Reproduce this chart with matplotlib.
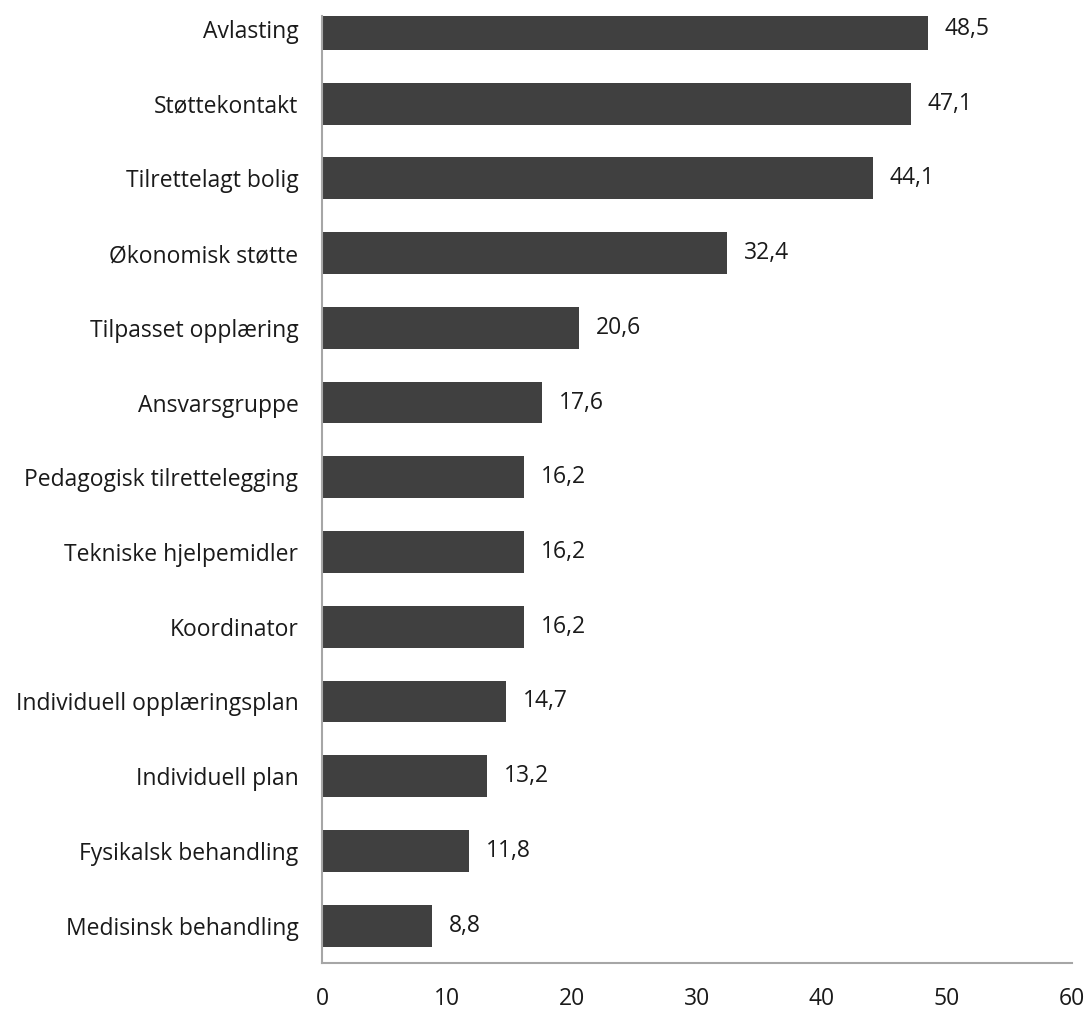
import matplotlib
matplotlib.use("Agg")
import matplotlib.pyplot as plt

plt.rcParams['font.family'] = ['Open Sans', 'DejaVu Sans']

# data, top to bottom as in the chart
categories = ['Avlasting', 'Støttekontakt', 'Tilrettelagt bolig', 'Økonomisk støtte',
              'Tilpasset opplæring', 'Ansvarsgruppe', 'Pedagogisk tilrettelegging',
              'Tekniske hjelpemidler', 'Koordinator', 'Individuell opplæringsplan',
              'Individuell plan', 'Fysikalsk behandling', 'Medisinsk behandling']
values = [48.5, 47.1, 44.1, 32.4, 20.6, 17.6, 16.2, 16.2, 16.2, 14.7, 13.2, 11.8, 8.8]
xticks = [0, 10, 20, 30, 40, 50, 60]

fig = plt.figure(figsize=(10.88, 10.10), dpi=100)
ax = fig.add_axes([0.296, 0.0465, 0.689, 0.9375])

n = len(categories)
pos = list(range(n - 1, -1, -1))
ax.barh(pos, values, height=0.56, color='#404040', edgecolor='none', zorder=2)

for p, v in zip(pos, values):
    ax.text(v + 1.35, p, ('%.1f' % v).replace('.', ','), va='center', ha='left',
            fontsize=16.5, color='#1a1a1a')

ax.set_xlim(0, 60)
ax.set_ylim(-0.5, 12.17)
ax.set_xticks(xticks)
ax.set_xticklabels([str(t) for t in xticks], fontsize=16.5, color='#1a1a1a')
ax.set_yticks(pos)
ax.set_yticklabels(categories, fontsize=16.5, color='#1a1a1a')
ax.tick_params(axis='both', length=0)
ax.tick_params(axis='y', pad=17)
ax.tick_params(axis='x', pad=17)

for s in ['top', 'right']:
    ax.spines[s].set_visible(False)
for s in ['left', 'bottom']:
    ax.spines[s].set_color('#a6a6a6')
    ax.spines[s].set_linewidth(1.5)

fig.savefig('out.png', dpi=100)
